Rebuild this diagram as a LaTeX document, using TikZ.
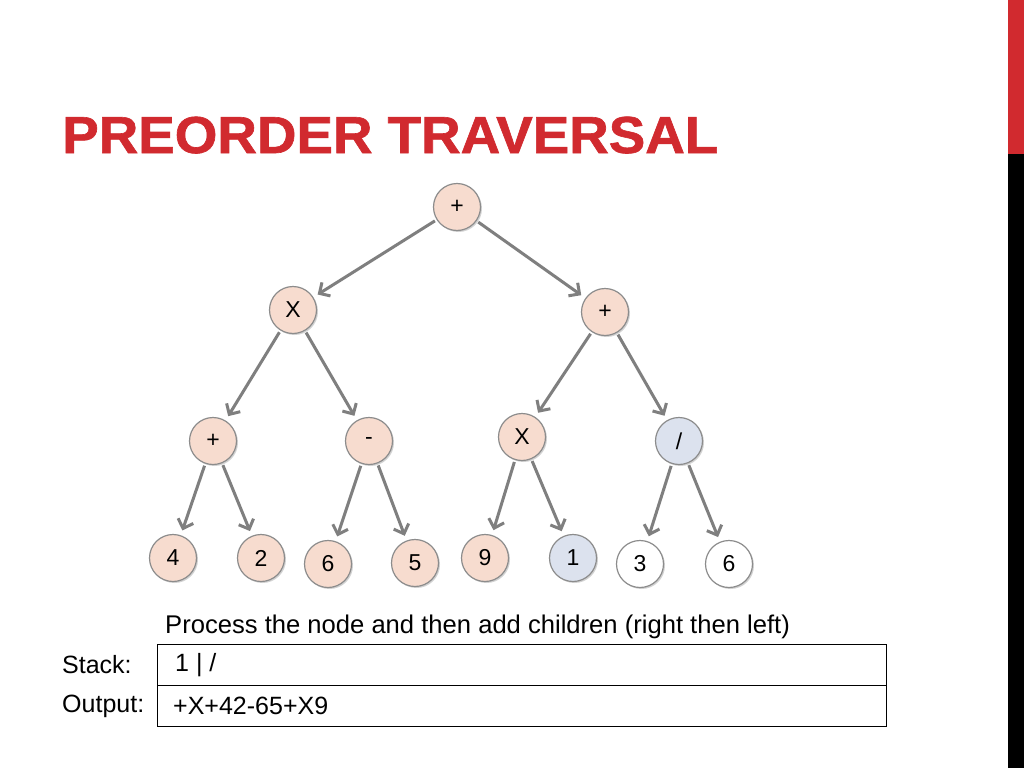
\documentclass[tikz,border=0pt]{standalone}
\usepackage{fontspec}
\setmainfont{Liberation Sans}
\newfontfamily\titlefont[FakeBold=1.2]{Liberation Sans Bold}
\usetikzlibrary{arrows.meta,shadows}
\definecolor{titlered}{HTML}{D12A2F}
\definecolor{peach}{HTML}{F7DCCF}
\definecolor{bluegray}{HTML}{DCE2EE}
\definecolor{ringgray}{HTML}{8C8C8C}
\definecolor{arrowgray}{HTML}{7F7F7F}
\begin{document}
\begin{tikzpicture}[x=1pt,y=-1pt,
  tnode/.style={circle,draw=ringgray,line width=1.2pt,minimum size=47pt,inner sep=0pt,
    font=\fontsize{23}{26}\selectfont,
    drop shadow={shadow xshift=1.5pt,shadow yshift=-1.5pt,opacity=0.35,fill=gray}},
  pk/.style={tnode,fill=peach},
  bg/.style={tnode,fill=bluegray},
  wh/.style={tnode,fill=white},
  edge/.style={draw=arrowgray,line width=3pt,shorten <=2pt,shorten >=5pt,
    -{Straight Barb[length=8pt,width=16pt,line width=3pt]}},
  lbl/.style={anchor=west,inner sep=0pt,font=\fontsize{25}{28}\selectfont},
  cell/.style={draw=black,line width=1pt}
]
\useasboundingbox (0,0) rectangle (1024,768);
\fill[white] (0,0) rectangle (1024,768);
% side bar
\fill[titlered] (1008,0) rectangle (1024,154);
\fill[black] (1008,154) rectangle (1024,768);
% title
\node[anchor=base west,inner sep=0pt,text=titlered,font=\fontsize{52}{60}\selectfont\titlefont] (title) at (62,153) {\scalebox{1.053}[1]{PREORDER TRAVERSAL}};
% tree
\node[pk] (r) at (457,207) {+};
\node[pk] (x1) at (293,310) {X};
\node[pk] (p1) at (605,312) {+};
\node[pk] (p2) at (213,441) {+};
\node[pk] (m) at (369,441) {-};
\node[pk] (x2) at (522,437) {X};
\node[bg] (d) at (679,441) {/};
\node[pk] (n4) at (173,558) {4};
\node[pk] (n2) at (261,558) {2};
\node[pk] (n6) at (328,564) {6};
\node[pk] (n5) at (415,563) {5};
\node[pk] (n9) at (485,558) {9};
\node[bg] (n1) at (573,558) {1};
\node[wh] (n3) at (640,564) {3};
\node[wh] (n6b) at (729,564) {6};
\draw[edge] (r) -- (x1);
\draw[edge] (r) -- (p1);
\draw[edge] (x1) -- (p2);
\draw[edge] (x1) -- (m);
\draw[edge] (p1) -- (x2);
\draw[edge] (p1) -- (d);
\draw[edge] (p2) -- (n4);
\draw[edge] (p2) -- (n2);
\draw[edge] (m) -- (n6);
\draw[edge] (m) -- (n5);
\draw[edge] (x2) -- (n9);
\draw[edge] (x2) -- (n1);
\draw[edge] (d) -- (n3);
\draw[edge] (d) -- (n6b);
% bottom
\node[lbl,font=\fontsize{25.6}{28}\selectfont] (proc) at (165,627) {Process the node and then add children (right then left)};
\draw[cell] (157,644) rectangle (886,685);
\draw[cell] (157,685) rectangle (886,726);
\node[lbl] (stackl) at (62,665) {Stack:};
\node[lbl] (outl) at (62,706) {Output:};
\node[lbl] (stackv) at (175,665) {1 | /};
\node[lbl] (outv) at (173,706) {+X+42-65+X9};
\end{tikzpicture}
\end{document}
